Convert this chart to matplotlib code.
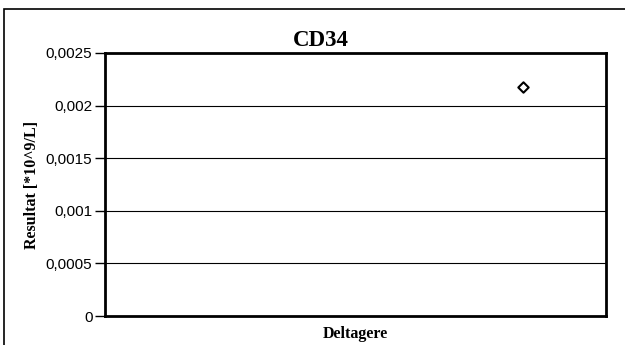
import matplotlib.pyplot as plt
from matplotlib.patches import Rectangle

# data
x_vals = [5]
y_vals = [0.00218]
y_ticks = [0, 0.0005, 0.001, 0.0015, 0.002, 0.0025]
y_labels = ['0', '0,0005', '0,001', '0,0015', '0,002', '0,0025']

fig = plt.figure(figsize=(6.25, 3.45), dpi=100)
W, H = 625, 345
ax = fig.add_axes([105 / W, 1 - 316 / H, (606 - 105) / W, (316 - 53) / H])

# outer chart frame
fig.patches.append(Rectangle((4 / W, -0.05), 1.1, 1 - 9 / H + 0.05,
                             transform=fig.transFigure, fill=False,
                             edgecolor='black', linewidth=1.2))

for y in y_ticks[1:-1]:
    ax.axhline(y, color='black', linewidth=0.8, zorder=1)

ax.scatter(x_vals, y_vals, marker='D', s=28, facecolors='white',
           edgecolors='black', linewidths=1.5, zorder=3)

ax.set_xlim(0, 6)
ax.set_ylim(0, 0.0025)
ax.set_xticks([])
ax.set_yticks(y_ticks)
ax.set_yticklabels(y_labels, fontfamily='Liberation Sans', fontsize=11)
ax.tick_params(axis='y', direction='out', length=7, width=1, pad=2)
for s in ax.spines.values():
    s.set_linewidth(2)

fig.text(321 / W, 1 - 46 / H, 'CD34', fontfamily='Liberation Serif',
         fontweight='bold', fontsize=16.5, ha='center', va='baseline')
ax.set_xlabel('Deltagere', fontfamily='Liberation Serif', fontweight='bold',
              fontsize=11.5, labelpad=7)
ax.set_ylabel('Resultat [*10^9/L]', fontfamily='Liberation Serif',
              fontweight='bold', fontsize=11.5, labelpad=4)

fig.savefig('out.png', dpi=100)
